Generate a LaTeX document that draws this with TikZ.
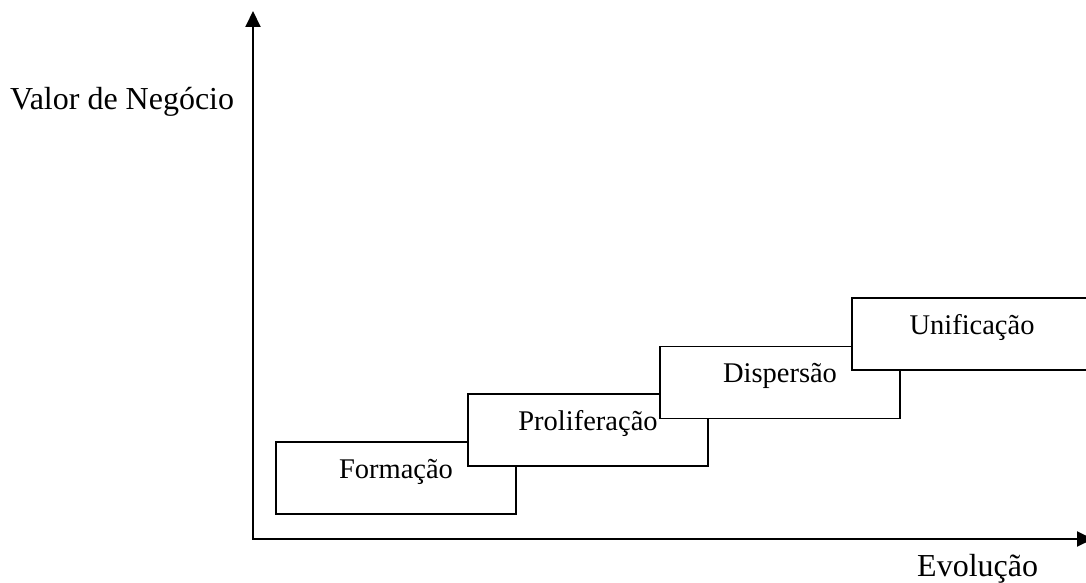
\documentclass[tikz,border=0pt]{standalone}
\usepackage{fontspec}
\setmainfont{Liberation Serif}
\usetikzlibrary{arrows.meta}

\tikzset{
  axis/.style={line width=2pt, {Triangle[length=16pt,width=15pt]}-{Triangle[length=16pt,width=15pt]}},
  stage/.style={draw, line width=1.6pt, fill=white, minimum width=240pt, minimum height=72pt,
    text height=14pt, text depth=14pt, inner sep=0pt, font=\fontsize{28.5}{32}\selectfont},
  axislabel/.style={inner sep=0pt, font=\fontsize{32}{36}\selectfont}
}

\begin{document}
\begin{tikzpicture}[x=1pt,y=-1pt]
        \useasboundingbox (0,0) rectangle (1086,583);

        % eixos
        \coordinate (ytop) at (253,11);
        \coordinate (origin) at (253,539);
        \coordinate (xend) at (1093,539);
        \draw[axis] (ytop) -- (origin) -- (xend);
        \node[axislabel, anchor=base west] (valor) at (10,110) {Valor de Negócio};
        \node[axislabel, anchor=base west] (evolucao) at (917,576) {Evolução};

        % estágios (cada um por cima do anterior)
        \node[stage] (formacao) at (396,478) {Formação};
        \node[stage] (proliferacao) at (588,430) {Proliferação};
        \node[stage] (dispersao) at (780,382.5) {Dispersão};
        \node[stage] (unificacao) at (972,334) {Unificação};
\end{tikzpicture}
\end{document}
